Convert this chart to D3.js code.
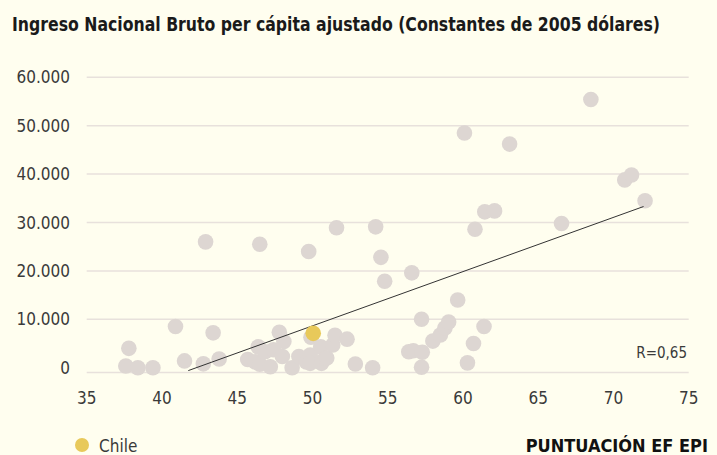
<!DOCTYPE html>
<html>
<head>
<meta charset="utf-8">
<script src="https://cdn.jsdelivr.net/npm/d3@7"></script>
<style>
    body { margin: 0; background: #fffeef; }
    svg { display: block; }
</style>
</head>
<body>
<script>
(function(){

//EF EPI score for each country
var epiScores = [37.6, 37.8, 38.4, 39.4, 40.9, 41.5, 42.75, 42.9, 43.4, 43.8,
    45.7, 46.2, 46.4, 46.5, 46.5, 46.85, 47.2, 47.4, 47.8, 48.0,
    48.1, 48.65, 49.1, 49.6, 49.75, 49.85, 49.85, 49.9, 50.55, 50.6,
    50.6, 50.85, 50.95, 51.35, 51.5, 51.6, 52.3, 52.85, 54.0, 54.2,
    54.55, 54.8, 56.4, 56.6, 56.7, 57.25, 57.3, 57.25, 58.0, 58.5,
    58.8, 59.05, 59.65, 60.1, 60.3, 60.7, 60.8, 61.4, 61.45, 62.1,
    63.1, 66.55, 68.5, 70.75, 71.2, 72.1];

//adjusted GNI per capita, same order
var gniValues = [350, 4000, 0, 0, 8500, 1400, 800, 26000, 7200, 1800,
    1700, 1200, 4300, 700, 25500, 3300, 200, 3700, 7300, 2300,
    5400, 0, 2300, 1200, 24000, 2600, 900, 6300, 4300, 1200,
    900, 1900, 2000, 4700, 6700, 28900, 5900, 750, 0, 29100,
    22800, 17850, 3300, 19600, 3500, 10000, 3200, 100, 5500, 6750,
    8200, 9440, 14000, 48500, 1000, 5000, 28600, 8500, 32200, 32400,
    46200, 29800, 55400, 38800, 39800, 34500];

//highlighted country
var chile = {name: "Chile", epi: 50.05, gni: 7100};

//trend line ends [epi, gni]
var trendLine = [[41.75, -600], [72.0, 33300]];
var rLabel = "R=0,65";

//axis ticks
var xTicks = [35, 40, 45, 50, 55, 60, 65, 70, 75];
var yTicks = [0, 10000, 20000, 30000, 40000, 50000, 60000];
var yFloor = -1000;

var titleText = "Ingreso Nacional Bruto per cápita ajustado (Constantes de 2005 dólares)";
var xTitle = "PUNTUACIÓN EF EPI";

var width = 717,
    height = 455;

var fontStack = "'DIN Alternate', 'Liberation Sans Narrow', 'DejaVu Sans Condensed', 'Roboto Condensed', 'Roboto', sans-serif";

var svg = d3.select("body")
    .append("svg")
    .attr("width", width)
    .attr("height", height)
    .style("background", "#fffeef");

var x = d3.scaleLinear()
    .domain([35, 75])
    .range([86.7, 688.7]);

var y = d3.scaleLinear()
    .domain([0, 60000])
    .range([367.7, 77.3]);

//format like 60.000
var fmt = function(v){
    return d3.format(",")(v).replace(/,/g, ".");
};

//title
svg.append("text")
    .attr("x", 12)
    .attr("y", 31)
    .attr("textLength", 648)
    .attr("lengthAdjust", "spacingAndGlyphs")
    .style("font-family", fontStack)
    .style("font-size", "19px")
    .style("font-weight", "600")
    .style("fill", "#1a1a1a")
    .text(titleText);

//horizontal gridlines
svg.selectAll(".grid")
    .data(yTicks.slice(1))
    .enter()
    .append("line")
    .attr("class", "grid")
    .attr("x1", x(35))
    .attr("x2", x(75))
    .attr("y1", function(d){ return y(d); })
    .attr("y2", function(d){ return y(d); })
    .style("stroke", "#e8e1dc")
    .style("stroke-width", 1.5);

//baseline
svg.append("line")
    .attr("x1", x(35))
    .attr("x2", x(75))
    .attr("y1", y(yFloor))
    .attr("y2", y(yFloor))
    .style("stroke", "#e8e1dc")
    .style("stroke-width", 1.5);

//y tick labels
svg.selectAll(".ylabel")
    .data(yTicks)
    .enter()
    .append("text")
    .attr("class", "ylabel")
    .attr("x", 70)
    .attr("y", function(d){ return y(d); })
    .attr("dy", "0.36em")
    .attr("text-anchor", "end")
    .style("font-family", fontStack)
    .style("font-size", "17px")
    .style("fill", "#3a3a3a")
    .text(fmt);

//x tick labels
svg.selectAll(".xlabel")
    .data(xTicks)
    .enter()
    .append("text")
    .attr("class", "xlabel")
    .attr("x", function(d){ return x(d); })
    .attr("y", 404)
    .attr("text-anchor", "middle")
    .style("font-family", fontStack)
    .style("font-size", "17px")
    .style("fill", "#3a3a3a")
    .text(function(d){ return d; });

//gray country dots
var points = epiScores.map(function(e, i){
    return {epi: e, gni: gniValues[i]};
});

svg.selectAll(".dot")
    .data(points)
    .enter()
    .append("circle")
    .attr("class", "dot")
    .attr("cx", function(d){ return x(d.epi); })
    .attr("cy", function(d){ return y(d.gni); })
    .attr("r", 7.8)
    .style("fill", "#ddd6d2");

//trend line
svg.append("path")
    .datum(trendLine)
    .attr("d", d3.line()
        .x(function(d){ return x(d[0]); })
        .y(function(d){ return y(d[1]); }))
    .style("fill", "none")
    .style("stroke", "#333")
    .style("stroke-width", 1);

//chile on top
svg.append("circle")
    .attr("cx", x(chile.epi))
    .attr("cy", y(chile.gni))
    .attr("r", 7.8)
    .style("fill", "#e8c95a");

//correlation label
svg.append("text")
    .attr("x", 687)
    .attr("y", 358)
    .attr("text-anchor", "end")
    .style("font-family", fontStack)
    .style("font-size", "15px")
    .style("fill", "#3a3a3a")
    .text(rLabel);

//legend
svg.append("circle")
    .attr("cx", 82)
    .attr("cy", 445)
    .attr("r", 7)
    .style("fill", "#e8c95a");

svg.append("text")
    .attr("x", 99)
    .attr("y", 452)
    .style("font-family", fontStack)
    .style("font-size", "17px")
    .style("fill", "#3a3a3a")
    .text(chile.name);

//x axis title
svg.append("text")
    .attr("x", 708)
    .attr("y", 452)
    .attr("text-anchor", "end")
    .style("font-family", fontStack)
    .style("font-size", "18px")
    .style("font-weight", "600")
    .style("fill", "#111")
    .text(xTitle);

})();
</script>
</body>
</html>
